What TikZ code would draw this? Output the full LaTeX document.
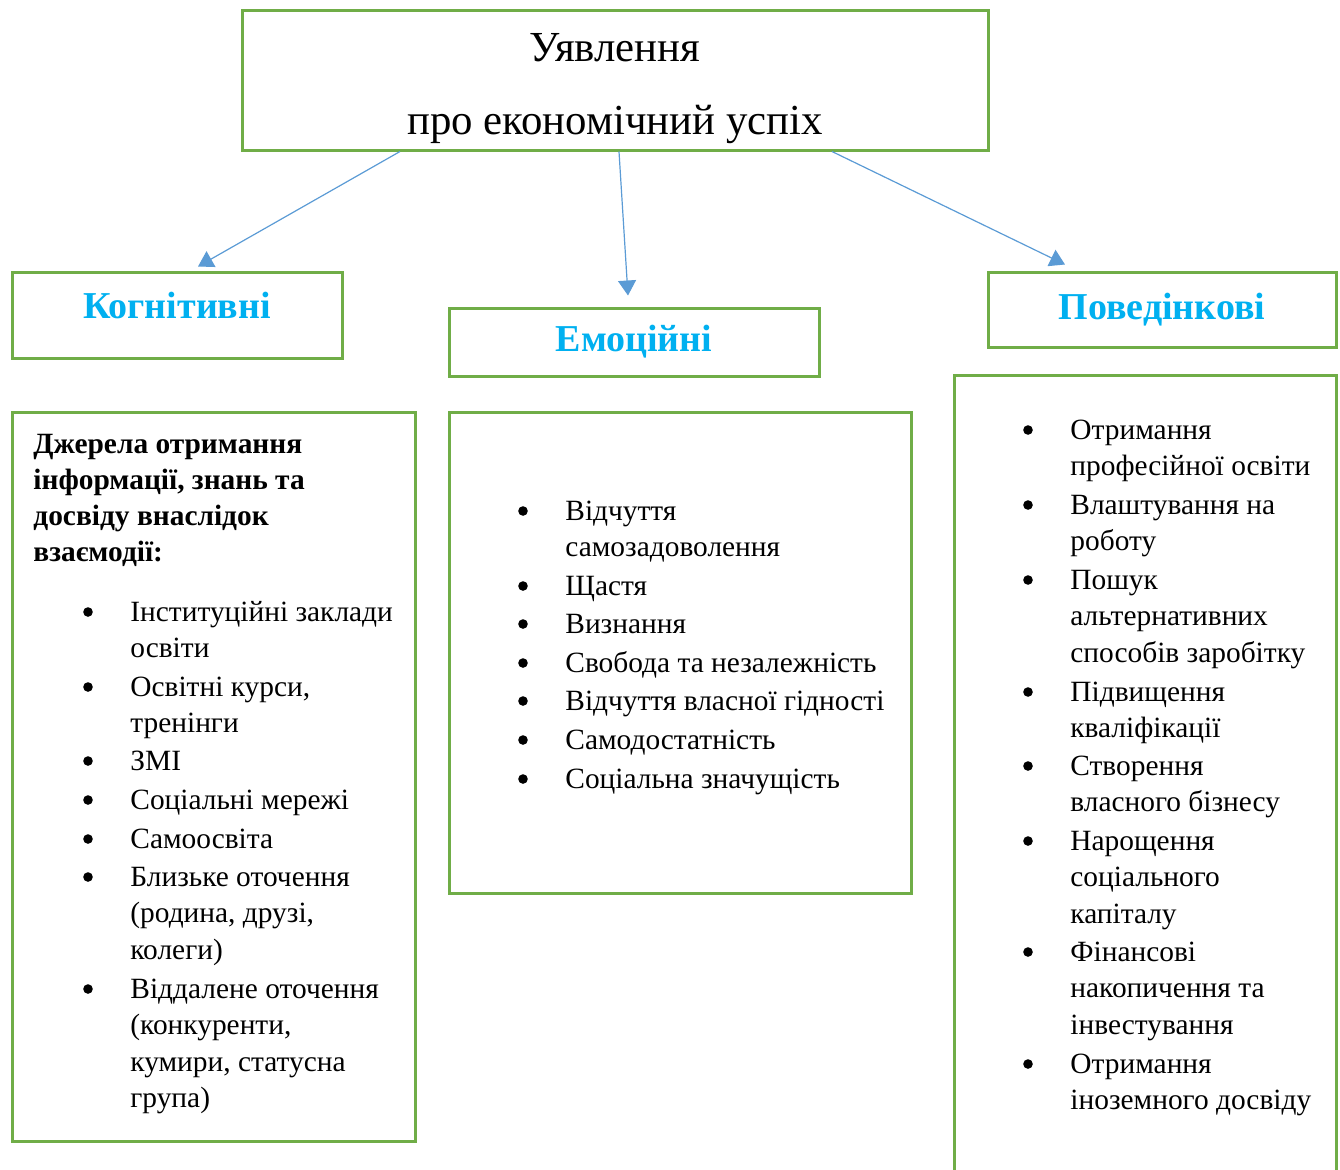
\documentclass[tikz,border=0pt]{standalone}
\usepackage{fontspec}
\setmainfont{Liberation Serif}
\usetikzlibrary{arrows.meta}
\definecolor{boxgreen}{HTML}{70AD47}
\definecolor{arrowblue}{HTML}{5B9BD5}
\definecolor{headcyan}{HTML}{00B0F0}
\begin{document}
\begin{tikzpicture}[x=0.5pt, y=-0.5pt,
    frame/.style={draw=boxgreen, line width=1.5pt},
    headbox/.style={frame, inner sep=0pt, text=headcyan, font=\fontsize{19}{22}\selectfont\bfseries},
    link/.style={draw=arrowblue, line width=0.6pt, -{Triangle[length=7.5pt, width=9pt]}},
    item/.style={anchor=north west, align=left, inner sep=0pt, font=\fontsize{14.7}{18.2}\selectfont},
    bul/.style={circle, fill=black, inner sep=0pt, minimum size=4.8pt}]
  \useasboundingbox (0,0) rectangle (1340,1169);

  % заголовок
  \node[frame, minimum width=373pt, minimum height=70pt] (title) at (615,80) {};
  \node[anchor=north, align=center, inner sep=0pt, font=\fontsize{21.4}{36.5}\selectfont]
    (titletext) at (615,10) {\strut Уявлення\\про економічний успіх};

  % три компоненти
  \node[headbox, minimum width=165pt, minimum height=43pt, text depth=10pt] (cog) at (177,315) {Когнітивні};
  \node[headbox, minimum width=185pt, minimum height=34pt] (emo) at (634,342) {Емоційні};
  \node[headbox, minimum width=174pt, minimum height=37.5pt] (beh) at (1162,309.5) {Поведінкові};

  \draw[link] ([xshift=-107.5pt]title.south) -- ([xshift=10.5pt, yshift=2pt]cog.north);
  \draw[link] ([xshift=2pt]title.south) -- ([xshift=-3pt, yshift=5.5pt]emo.north);
  \draw[link] ([xshift=108.5pt]title.south) -- ([xshift=-48.5pt, yshift=3pt]beh.north);

  % рамки зі списками
  \draw[frame] (12,412) rectangle (415,1141);
  \draw[frame] (449,412) rectangle (911,893);
  \draw[frame] (954,1190) -- (954,375) -- (1336,375) -- (1336,1190);

  % когнітивні
  \node[item, font=\fontsize{14.7}{18}\selectfont\bfseries] (cogtitle) at (33,428)
    {\strut Джерела отримання\\інформації, знань та\\досвіду внаслідок\\взаємодії:};
  \foreach \y/\t [count=\i] in {611/{Інституційні заклади\\освіти}, 686/{Освітні курси,\\тренінги},
      760/{ЗМІ}, 799/{Соціальні мережі}, 838/{Самоосвіта},
      876/{Близьке оточення\\(родина, друзі,\\колеги)},
      988/{Віддалене оточення\\(конкуренти,\\кумири, статусна\\група)}} {
    \node[bul] (cb\i) at (88,\y+1) {};
    \node[item] (ci\i) at (130,\y-15.5) {\strut\t};
  }

  % емоційні
  \foreach \y/\t [count=\i] in {510/{Відчуття\\самозадоволення}, 585/{Щастя}, 623/{Визнання},
      662/{Свобода та незалежність}, 700/{Відчуття власної гідності},
      739/{Самодостатність}, 778/{Соціальна значущість}} {
    \node[bul] (eb\i) at (523,\y+1) {};
    \node[item] (ei\i) at (565,\y-15.5) {\strut\t};
  }

  % поведінкові
  \foreach \y/\t [count=\i] in {429/{Отримання\\професійної освіти}, 504/{Влаштування на\\роботу},
      579/{Пошук\\альтернативних\\способів заробітку}, 691/{Підвищення\\кваліфікації},
      765/{Створення\\власного бізнесу}, 840/{Нарощення\\соціального\\капіталу},
      951/{Фінансові\\накопичення та\\інвестування}, 1063/{Отримання\\іноземного досвіду}} {
    \node[bul] (bb\i) at (1028,\y+1) {};
    \node[item] (bi\i) at (1070,\y-15.5) {\strut\t};
  }
\end{tikzpicture}
\end{document}
